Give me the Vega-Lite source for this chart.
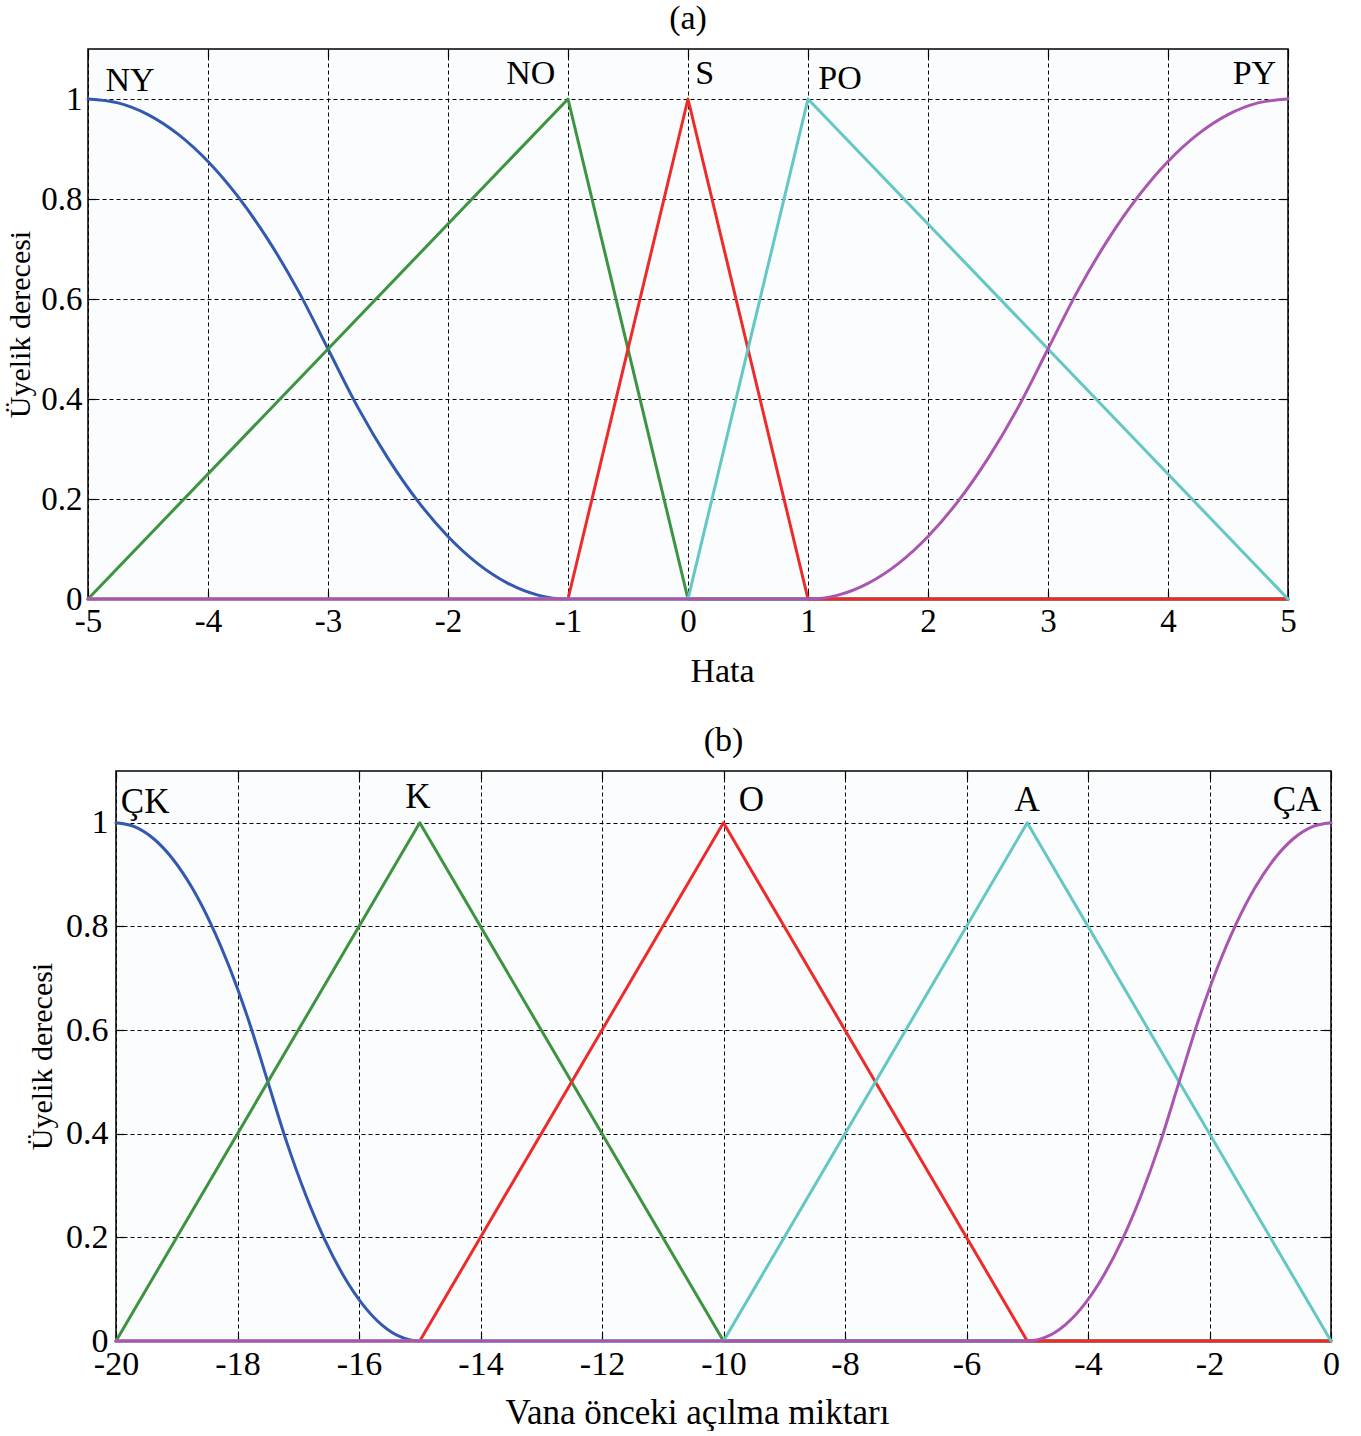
{
  "$schema": "https://vega.github.io/schema/vega-lite/v6.json",
  "background": "white",
  "padding": {"left": 4, "top": 1, "right": 0, "bottom": 0},
  "config": {
    "font": "Liberation Serif",
    "view": {"stroke": "black", "strokeWidth": 1.5, "fill": "#fbfcfe"},
    "axis": {
      "domain": false,
      "grid": true,
      "gridColor": "black",
      "gridDash": [4, 3],
      "gridOpacity": 1,
      "gridWidth": 1,
      "tickColor": "black",
      "tickSize": -8,
      "tickWidth": 1.2,
      "labelColor": "black",
      "labelFlush": false,
      "labelFont": "Liberation Serif",
      "titleFont": "Liberation Serif",
      "titleFontWeight": "normal",
      "titleColor": "black"
    },
    "title": {"font": "Liberation Serif", "fontWeight": "normal", "fontSize": 33, "color": "black"}
  },
  "datasets": {
    "a": [
      {"s": "NY", "x": -5, "y": 1}, {"s": "NY", "x": -4.75, "y": 0.9922}, {"s": "NY", "x": -4.5, "y": 0.9688}, {"s": "NY", "x": -4.25, "y": 0.9297},
      {"s": "NY", "x": -4, "y": 0.875}, {"s": "NY", "x": -3.75, "y": 0.8047}, {"s": "NY", "x": -3.5, "y": 0.7188}, {"s": "NY", "x": -3.25, "y": 0.6172},
      {"s": "NY", "x": -3, "y": 0.5}, {"s": "NY", "x": -2.75, "y": 0.3828}, {"s": "NY", "x": -2.5, "y": 0.2813}, {"s": "NY", "x": -2.25, "y": 0.1953},
      {"s": "NY", "x": -2, "y": 0.125}, {"s": "NY", "x": -1.75, "y": 0.0703}, {"s": "NY", "x": -1.5, "y": 0.0313}, {"s": "NY", "x": -1.25, "y": 0.0078},
      {"s": "NY", "x": -1, "y": 0}, {"s": "NY", "x": 5, "y": 0},
      {"s": "NO", "x": -5, "y": 0}, {"s": "NO", "x": -1, "y": 1}, {"s": "NO", "x": 0, "y": 0}, {"s": "NO", "x": 5, "y": 0},
      {"s": "S", "x": -5, "y": 0}, {"s": "S", "x": -1, "y": 0}, {"s": "S", "x": 0, "y": 1}, {"s": "S", "x": 1, "y": 0}, {"s": "S", "x": 5, "y": 0},
      {"s": "PO", "x": -5, "y": 0}, {"s": "PO", "x": 0, "y": 0}, {"s": "PO", "x": 1, "y": 1}, {"s": "PO", "x": 5, "y": 0},
      {"s": "PY", "x": -5, "y": 0}, {"s": "PY", "x": 1, "y": 0}, {"s": "PY", "x": 1.25, "y": 0.0078}, {"s": "PY", "x": 1.5, "y": 0.0313},
      {"s": "PY", "x": 1.75, "y": 0.0703}, {"s": "PY", "x": 2, "y": 0.125}, {"s": "PY", "x": 2.25, "y": 0.1953}, {"s": "PY", "x": 2.5, "y": 0.2813},
      {"s": "PY", "x": 2.75, "y": 0.3828}, {"s": "PY", "x": 3, "y": 0.5}, {"s": "PY", "x": 3.25, "y": 0.6172}, {"s": "PY", "x": 3.5, "y": 0.7188},
      {"s": "PY", "x": 3.75, "y": 0.8047}, {"s": "PY", "x": 4, "y": 0.875}, {"s": "PY", "x": 4.25, "y": 0.9297}, {"s": "PY", "x": 4.5, "y": 0.9688},
      {"s": "PY", "x": 4.75, "y": 0.9922}, {"s": "PY", "x": 5, "y": 1}
    ],
    "aLabels": [
      {"label": "NY", "x": -4.65, "y": 1.036},
      {"label": "NO", "x": -1.31, "y": 1.05},
      {"label": "S", "x": 0.14, "y": 1.051},
      {"label": "PO", "x": 1.267, "y": 1.04},
      {"label": "PY", "x": 4.72, "y": 1.051}
    ],
    "b": [
      {"s": "ÇK", "x": -20, "y": 1}, {"s": "ÇK", "x": -19.6875, "y": 0.9922}, {"s": "ÇK", "x": -19.375, "y": 0.9688}, {"s": "ÇK", "x": -19.0625, "y": 0.9297},
      {"s": "ÇK", "x": -18.75, "y": 0.875}, {"s": "ÇK", "x": -18.4375, "y": 0.8047}, {"s": "ÇK", "x": -18.125, "y": 0.7188}, {"s": "ÇK", "x": -17.8125, "y": 0.6172},
      {"s": "ÇK", "x": -17.5, "y": 0.5}, {"s": "ÇK", "x": -17.1875, "y": 0.3828}, {"s": "ÇK", "x": -16.875, "y": 0.2813}, {"s": "ÇK", "x": -16.5625, "y": 0.1953},
      {"s": "ÇK", "x": -16.25, "y": 0.125}, {"s": "ÇK", "x": -15.9375, "y": 0.0703}, {"s": "ÇK", "x": -15.625, "y": 0.0313}, {"s": "ÇK", "x": -15.3125, "y": 0.0078},
      {"s": "ÇK", "x": -15, "y": 0}, {"s": "ÇK", "x": 0, "y": 0},
      {"s": "K", "x": -20, "y": 0}, {"s": "K", "x": -15, "y": 1}, {"s": "K", "x": -10, "y": 0}, {"s": "K", "x": 0, "y": 0},
      {"s": "O", "x": -20, "y": 0}, {"s": "O", "x": -15, "y": 0}, {"s": "O", "x": -10, "y": 1}, {"s": "O", "x": -5, "y": 0}, {"s": "O", "x": 0, "y": 0},
      {"s": "A", "x": -20, "y": 0}, {"s": "A", "x": -10, "y": 0}, {"s": "A", "x": -5, "y": 1}, {"s": "A", "x": 0, "y": 0},
      {"s": "ÇA", "x": -20, "y": 0}, {"s": "ÇA", "x": -5, "y": 0}, {"s": "ÇA", "x": -4.6875, "y": 0.0078}, {"s": "ÇA", "x": -4.375, "y": 0.0313},
      {"s": "ÇA", "x": -4.0625, "y": 0.0703}, {"s": "ÇA", "x": -3.75, "y": 0.125}, {"s": "ÇA", "x": -3.4375, "y": 0.1953}, {"s": "ÇA", "x": -3.125, "y": 0.2813},
      {"s": "ÇA", "x": -2.8125, "y": 0.3828}, {"s": "ÇA", "x": -2.5, "y": 0.5}, {"s": "ÇA", "x": -2.1875, "y": 0.6172}, {"s": "ÇA", "x": -1.875, "y": 0.7188},
      {"s": "ÇA", "x": -1.5625, "y": 0.8047}, {"s": "ÇA", "x": -1.25, "y": 0.875}, {"s": "ÇA", "x": -0.9375, "y": 0.9297}, {"s": "ÇA", "x": -0.625, "y": 0.9688},
      {"s": "ÇA", "x": -0.3125, "y": 0.9922}, {"s": "ÇA", "x": 0, "y": 1}
    ],
    "bLabels": [
      {"label": "ÇK", "x": -19.52, "y": 1.04},
      {"label": "K", "x": -15.03, "y": 1.049},
      {"label": "O", "x": -9.54, "y": 1.045},
      {"label": "A", "x": -5.0, "y": 1.044},
      {"label": "ÇA", "x": -0.56, "y": 1.044}
    ]
  },
  "spacing": 34,
  "vconcat": [
    {
      "spacing": 0,
      "hconcat": [
        {
          "width": 1,
          "height": 10,
          "view": {"stroke": null, "fill": null},
          "data": {"values": [{"t": ""}]},
          "mark": {"type": "text"},
          "encoding": {"text": {"field": "t"}}
        },
        {
          "width": 1200,
          "height": 550,
          "title": {"text": "(a)", "offset": 12, "fontSize": 34},
          "resolve": {"axis": {"x": "independent", "y": "independent"}},
          "layer": [
            {
              "data": {"name": "a"},
              "transform": [{"filter": {"field": "s", "equal": "NY"}}],
              "mark": {"type": "line", "strokeWidth": 3, "strokeCap": "round", "strokeJoin": "round", "interpolate": "monotone"},
              "encoding": {
                "x": {
                  "field": "x", "type": "quantitative",
                  "scale": {"domain": [-5, 5], "nice": false, "zero": false},
                  "axis": {"values": [-5, -4, -3, -2, -1, 0, 1, 2, 3, 4, 5], "labelExpr": "'' + datum.value", "labelFontSize": 33, "labelPadding": 14, "title": "Hata", "titleFontSize": 34, "titlePadding": 16, "titleX": 634}
                },
                "y": {
                  "field": "y", "type": "quantitative",
                  "scale": {"domain": [0, 1.1], "nice": false},
                  "axis": {"values": [0, 0.2, 0.4, 0.6, 0.8, 1], "labelExpr": "'' + datum.value", "labelFontSize": 33, "labelPadding": 14, "title": "Üyelik derecesi", "titleFontSize": 30, "titlePadding": 5}
                },
                "color": {
                  "field": "s", "type": "nominal",
                  "scale": {"domain": ["NY", "NO", "S", "PO", "PY"], "range": ["#3358b0", "#3d9440", "#ee2b2b", "#63c7c3", "#aa56b0"]},
                  "legend": null
                }
              }
            },
            {
              "data": {"name": "a"},
              "transform": [{"filter": {"field": "s", "oneOf": ["NO", "S", "PO"]}}],
              "mark": {"type": "line", "strokeWidth": 3, "strokeCap": "round", "strokeJoin": "round"},
              "encoding": {
                "x": {"field": "x", "type": "quantitative", "axis": null},
                "y": {"field": "y", "type": "quantitative", "axis": null},
                "color": {"field": "s", "type": "nominal", "legend": null}
              }
            },
            {
              "data": {"name": "a"},
              "transform": [{"filter": {"field": "s", "equal": "PY"}}],
              "mark": {"type": "line", "strokeWidth": 3, "strokeCap": "round", "strokeJoin": "round", "interpolate": "monotone"},
              "encoding": {
                "x": {"field": "x", "type": "quantitative", "axis": null},
                "y": {"field": "y", "type": "quantitative", "axis": null},
                "color": {"field": "s", "type": "nominal", "legend": null}
              }
            },
            {
              "data": {"name": "aLabels"},
              "mark": {"type": "text", "fontSize": 34, "font": "Liberation Serif", "color": "black", "baseline": "middle", "align": "center"},
              "encoding": {
                "x": {"field": "x", "type": "quantitative", "axis": {"orient": "top", "values": [-5, -4, -3, -2, -1, 0, 1, 2, 3, 4, 5], "labels": false, "grid": false, "title": null}},
                "y": {"field": "y", "type": "quantitative", "axis": {"orient": "right", "values": [0, 0.2, 0.4, 0.6, 0.8, 1], "labels": false, "grid": false, "title": null}},
                "text": {"field": "label"}
              }
            }
          ]
        }
      ]
    },
    {
      "spacing": 0,
      "hconcat": [
        {
          "width": 22,
          "height": 10,
          "view": {"stroke": null, "fill": null},
          "data": {"values": [{"t": ""}]},
          "mark": {"type": "text"},
          "encoding": {"text": {"field": "t"}}
        },
        {
          "width": 1215,
          "height": 570,
          "title": {"text": "(b)", "offset": 12, "fontSize": 34},
          "resolve": {"axis": {"x": "independent", "y": "independent"}},
          "layer": [
            {
              "data": {"name": "b"},
              "transform": [{"filter": {"field": "s", "equal": "ÇK"}}],
              "mark": {"type": "line", "strokeWidth": 3, "strokeCap": "round", "strokeJoin": "round", "interpolate": "monotone"},
              "encoding": {
                "x": {
                  "field": "x", "type": "quantitative",
                  "scale": {"domain": [-20, 0], "nice": false, "zero": false},
                  "axis": {"values": [-20, -18, -16, -14, -12, -10, -8, -6, -4, -2, 0], "labelExpr": "'' + datum.value", "labelFontSize": 34, "labelPadding": 14, "title": "Vana önceki açılma miktarı", "titleFontSize": 35, "titlePadding": 14, "titleX": 581}
                },
                "y": {
                  "field": "y", "type": "quantitative",
                  "scale": {"domain": [0, 1.1], "nice": false},
                  "axis": {"values": [0, 0.2, 0.4, 0.6, 0.8, 1], "labelExpr": "'' + datum.value", "labelFontSize": 34, "labelPadding": 16, "title": "Üyelik derecesi", "titleFontSize": 30, "titlePadding": 8}
                },
                "color": {
                  "field": "s", "type": "nominal",
                  "scale": {"domain": ["ÇK", "K", "O", "A", "ÇA"], "range": ["#3358b0", "#3d9440", "#ee2b2b", "#63c7c3", "#aa56b0"]},
                  "legend": null
                }
              }
            },
            {
              "data": {"name": "b"},
              "transform": [{"filter": {"field": "s", "oneOf": ["K", "O", "A"]}}],
              "mark": {"type": "line", "strokeWidth": 3, "strokeCap": "round", "strokeJoin": "round"},
              "encoding": {
                "x": {"field": "x", "type": "quantitative", "axis": null},
                "y": {"field": "y", "type": "quantitative", "axis": null},
                "color": {"field": "s", "type": "nominal", "legend": null}
              }
            },
            {
              "data": {"name": "b"},
              "transform": [{"filter": {"field": "s", "equal": "ÇA"}}],
              "mark": {"type": "line", "strokeWidth": 3, "strokeCap": "round", "strokeJoin": "round", "interpolate": "monotone"},
              "encoding": {
                "x": {"field": "x", "type": "quantitative", "axis": null},
                "y": {"field": "y", "type": "quantitative", "axis": null},
                "color": {"field": "s", "type": "nominal", "legend": null}
              }
            },
            {
              "data": {"name": "bLabels"},
              "mark": {"type": "text", "fontSize": 35, "font": "Liberation Serif", "color": "black", "baseline": "middle", "align": "center"},
              "encoding": {
                "x": {"field": "x", "type": "quantitative", "axis": {"orient": "top", "values": [-20, -18, -16, -14, -12, -10, -8, -6, -4, -2, 0], "labels": false, "grid": false, "title": null}},
                "y": {"field": "y", "type": "quantitative", "axis": {"orient": "right", "values": [0, 0.2, 0.4, 0.6, 0.8, 1], "labels": false, "grid": false, "title": null}},
                "text": {"field": "label"}
              }
            }
          ]
        }
      ]
    }
  ]
}
